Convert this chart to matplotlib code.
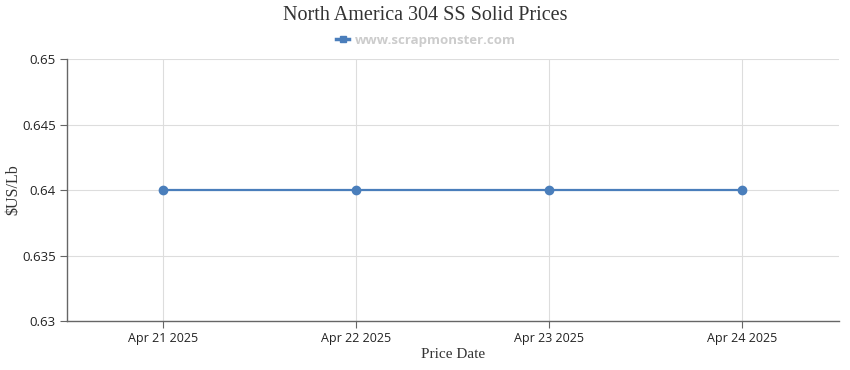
import matplotlib.pyplot as plt
from matplotlib.lines import Line2D

# Данные
dates = ['Apr 21 2025', 'Apr 22 2025', 'Apr 23 2025', 'Apr 24 2025']
prices = [0.64, 0.64, 0.64, 0.64]
y_ticks = [0.63, 0.635, 0.64, 0.645, 0.65]
y_tick_labels = ['0.63', '0.635', '0.64', '0.645', '0.65']

line_color = '#4a7ebb'
sans = ['Open Sans', 'DejaVu Sans']
serif = ['Liberation Serif', 'DejaVu Serif']

fig = plt.figure(figsize=(8.5, 3.7), dpi=100)
ax = fig.add_axes([0.0788, 0.1324, 0.9082, 0.7081])

x = list(range(len(dates)))
ax.plot(x, prices, color=line_color, linewidth=1.6, marker='o', markersize=6)

ax.set_xlim(-0.5, len(dates) - 0.5)
ax.set_ylim(0.63, 0.65)
ax.set_xticks(x)
ax.set_xticklabels(dates, fontfamily=sans, fontsize=9, color='#222222')
ax.set_yticks(y_ticks)
ax.set_yticklabels(y_tick_labels, fontfamily=sans, fontsize=9.5, color='#222222')

# Сетка и оси
ax.grid(color='#dddddd', linewidth=0.8)
ax.set_axisbelow(True)
for side in ['top', 'right']:
    ax.spines[side].set_visible(False)
for side in ['left', 'bottom']:
    ax.spines[side].set_color('#666666')
    ax.spines[side].set_linewidth(1)
ax.tick_params(axis='both', length=5, color='#666666', pad=3)

ax.set_xlabel('Price Date', fontfamily=serif, fontsize=11, color='#333333', labelpad=2)
ax.set_ylabel('$US/Lb', fontfamily=serif, fontsize=11.5, color='#333333', va='center')
ax.yaxis.set_label_coords(-0.07, 0.5)

# Заголовок и легенда
fig.text(0.5, 0.958, 'North America 304 SS Solid Prices', ha='center', va='center',
         fontfamily=serif, fontsize=14.5, color='#333333')
handle = Line2D([], [], color=line_color, linewidth=2.5, marker='s', markersize=5)
fig.legend([handle], ['www.scrapmonster.com'], loc='center', bbox_to_anchor=(0.501, 0.891),
           frameon=False, handlelength=1.0, handletextpad=0.4,
           prop={'family': sans, 'weight': 'bold', 'size': 9.5}, labelcolor='#cccccc')

fig.savefig('out.png', dpi=100)
